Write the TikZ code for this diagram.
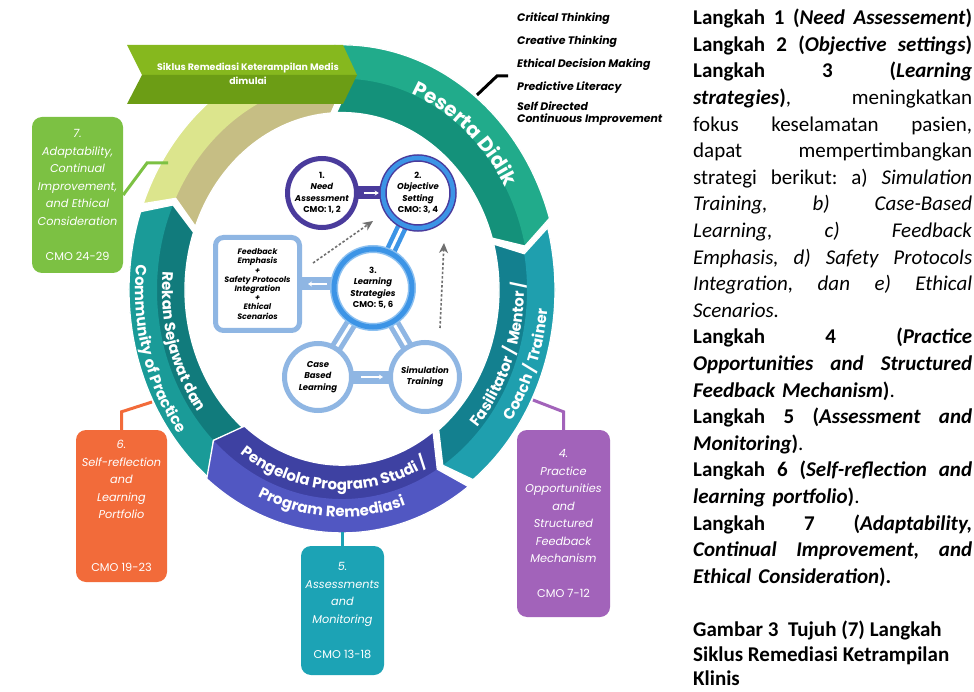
\documentclass[tikz,border=0pt]{standalone}
\usepackage{fontspec}
\setmainfont{Carlito}
\newfontfamily\popf{Poppins}
\usetikzlibrary{decorations.text,arrows.meta,calc}
\pgfdeclarelayer{back}
\pgfdeclarelayer{bg}
\pgfsetlayers{back,bg,main}
\definecolor{khL}{HTML}{DCE58D}\definecolor{khD}{HTML}{C6BE84}
\definecolor{peL}{HTML}{21AB8B}\definecolor{peD}{HTML}{14917A}
\definecolor{faL}{HTML}{1F9FAE}\definecolor{faD}{HTML}{13808F}
\definecolor{pgL}{HTML}{5157C2}\definecolor{pgD}{HTML}{3E41A2}
\definecolor{rkL}{HTML}{1A9B98}\definecolor{rkD}{HTML}{117B7C}
\definecolor{bnL}{HTML}{86B81E}\definecolor{bnD}{HTML}{6C9D15}
\definecolor{cSeven}{HTML}{7CC143}\definecolor{cSix}{HTML}{F26B3A}
\definecolor{cFive}{HTML}{1CA3B5}\definecolor{cFour}{HTML}{A263BA}
\definecolor{cPur}{HTML}{4A3B9C}\definecolor{cBlu}{HTML}{3C94E6}
\definecolor{cLig}{HTML}{8FB6E3}\definecolor{cPale}{HTML}{8CC0F0}
\definecolor{cGry}{HTML}{707070}
\newcommand\ringband[6]{%
 \begin{scope}
  \clip (#1:#4) arc[start angle=#1,end angle=#2,radius=#4] -- ({#2-5}:{(#3+#4)/2}) -- (#2:#3) arc[start angle=#2,end angle=#1,radius=#3] -- ({#1-5}:{(#3+#4)/2}) -- cycle;
  \fill[#5] (0,0) circle[radius=#4+20];
  \fill[#6,even odd rule] (0,0) circle[radius=#4+20] (0,0) circle[radius={(#3+#4)/2}];
 \end{scope}
 \draw[white,line width=1.3pt,line join=round] (#1:#4) arc[start angle=#1,end angle=#2,radius=#4] -- ({#2-5}:{(#3+#4)/2}) -- (#2:#3) arc[start angle=#2,end angle=#1,radius=#3] -- ({#1-5}:{(#3+#4)/2}) -- cycle;
}
\newcommand\jl[1]{\leavevmode\hbox to 279pt{\frenchspacing\spaceskip=0.226em plus 1fil\relax #1}}
\tikzset{
 callbox/.style={rounded corners=10pt,inner sep=0pt,align=center,text=white,font=\popf\itshape\fontsize{11.3}{17.5}\selectfont},
 calline/.style={line width=3pt},
 ctext/.style={font=\popf\bfseries\fontsize{8.5}{11.5}\selectfont,align=center,text=black},
 bigc/.style={circle,fill=white,inner sep=0pt},
 cbar/.style={line width=13pt},
 wtip/.style={white,line width=1.6pt,-{Stealth[length=4pt,width=5pt]}},
 dotarrow/.style={draw=cGry,line width=1.6pt,dash pattern=on 2.5pt off 2pt,-{Stealth[length=10pt,width=9pt,inset=3pt]}},
 listtext/.style={font=\popf\bfseries\itshape\fontsize{10.9}{12}\selectfont,inner sep=0pt,align=left},
}
\begin{document}
\begin{tikzpicture}[x=1pt,y=1pt]
\useasboundingbox (0,0) rectangle (974,-692);
\begin{pgfonlayer}{back}
\fill[white] (0,0) rectangle (974,-692);
\end{pgfonlayer}

% ---------- ring ----------
\begin{scope}[shift={(342,-290)}]
 \begin{scope}[yscale=1.13]
  \ringband{159}{94}{157}{213}{khD}{khL}
  \ringband{92}{17}{157}{217}{peD}{peL}
  \ringband{15}{-52}{157}{213}{faD}{faL}
  \ringband{231}{161}{157}{213}{rkD}{rkL}
  \ringband{-54}{-129}{155}{215}{pgD}{pgL}
 \end{scope}
 \path[decorate,decoration={text along path,text align=center,text color=white,
   text={|\popf\bfseries\fontsize{20}{20}\selectfont|Peserta Didik}}]
   (95:187 and 211.3) arc[start angle=95,end angle=5,x radius=187,y radius=211.3];
 \path[decorate,decoration={text along path,text align=center,text color=white,
   text={|\popf\bfseries\fontsize{15}{15}\selectfont|Fasilitator / Mentor /}}]
   (-50:182 and 205.7) arc[start angle=-50,end angle=10,x radius=182,y radius=205.7];
 \path[decorate,decoration={text along path,text align=center,text color=white,
   text={|\popf\bfseries\fontsize{15}{15}\selectfont|Coach / Trainer}}]
   (-50:206 and 232.8) arc[start angle=-50,end angle=10,x radius=206,y radius=232.8];
 \path[decorate,decoration={text along path,text align=center,text color=white,
   text={|\popf\bfseries\fontsize{15}{15}\selectfont|Pengelola Program Studi /}}]
   (-140:177 and 200) arc[start angle=-140,end angle=-46,x radius=177,y radius=200];
 \path[decorate,decoration={text along path,text align=center,text color=white,
   text={|\popf\bfseries\fontsize{15}{15}\selectfont|Program Remediasi}}]
   (-140:201 and 227) arc[start angle=-140,end angle=-46,x radius=201,y radius=227];
 \path[decorate,decoration={text along path,text align=center,text color=white,
   text={|\popf\bfseries\fontsize{15}{15}\selectfont|Rekan Sejawat dan}}]
   (171:180 and 203.4) arc[start angle=171,end angle=221,x radius=180,y radius=203.4];
 \path[decorate,decoration={text along path,text align=center,text color=white,
   text={|\popf\bfseries\fontsize{15}{15}\selectfont|Community of Practice}}]
   (171:207 and 233.9) arc[start angle=171,end angle=221,x radius=207,y radius=233.9];
\end{scope}

% ---------- banner ----------
\fill[bnL] (127,-45) -- (343,-45) -- (357,-75) -- (142,-75) -- cycle;
\fill[bnD] (142,-75) -- (357,-75) -- (343,-104) -- (127,-104) -- cycle;
\node[font=\popf\bfseries\fontsize{9.4}{14}\selectfont,text=white,align=center] (bnt) at (248,-74)
  {Siklus Remediasi Keterampilan Medis\\dimulai};

% ---------- callouts ----------
\node[callbox,fill=cSeven,minimum width=91pt,minimum height=156pt] (b7) at (77.5,-195)
 {7.\\Adaptability,\\Continual\\Improvement,\\and Ethical\\Consideration\\[17.5pt]\upshape CMO 24-29};
\node[callbox,fill=cSix,minimum width=91pt,minimum height=152pt] (b6) at (121.5,-506)
 {6.\\Self-reflection\\and\\Learning\\Portfolio\\[35pt]\upshape CMO 19-23};
\node[callbox,fill=cFive,minimum width=83pt,minimum height=129pt] (b5) at (342.5,-610.5)
 {5.\\Assessments\\and\\Monitoring\\[17.5pt]\upshape CMO 13-18};
\node[callbox,fill=cFour,minimum width=93pt,minimum height=187pt] (b4) at (563.5,-523.5)
 {4.\\Practice\\Opportunities\\and\\Structured\\Feedback\\Mechanism\\[17.5pt]\upshape CMO 7-12};
\coordinate (k7a) at (147,-163);\coordinate (k7b) at (168,-163);
\coordinate (k6) at (152,-402);
\coordinate (k4) at (533,-400);
\draw[calline,cSeven] (b7.east) -- (k7a) -- (k7b);
\draw[calline,cSix] (b6.north) -- ++(0,18) -- (k6);
\draw[calline,cFive] (b5.north) -- ++(0,14);
\draw[calline,cFour] (b4.north) -- ++(0,18) -- (k4);

% ---------- competence list ----------
\node[listtext,anchor=west] (l1) at (517,-19) {Critical Thinking};
\node[listtext,anchor=west] (l2) at (517,-42) {Creative Thinking};
\node[listtext,anchor=west] (l3) at (517,-65) {Ethical Decision Making};
\node[listtext,anchor=west] (l4) at (517,-88) {Predictive Literacy};
\node[listtext,anchor=north west,font=\popf\bfseries\itshape\fontsize{10.9}{11.5}\selectfont] (l5) at (517,-102) {Self Directed\\Continuous Improvement};
\coordinate (kp1) at (477,-95);\coordinate (kp2) at (497,-76);\coordinate (kp3) at (508,-76);
\draw[calline,black] (kp1) -- (kp2) -- (kp3);

% ---------- inner graph ----------
\node[bigc,ctext,draw=cPur,line width=5pt,minimum size=69pt] (n1) at (322,-193)
  {1.\\\textit{Need}\\\textit{Assessment}\\CMO: 1, 2};
\node[bigc,ctext,draw=cPur,line width=1.5pt,double=cBlu,double distance=4.5pt,minimum size=70pt] (n2) at (418,-193)
  {2.\\\textit{Objective}\\\textit{Setting}\\CMO: 3, 4};
\node[bigc,ctext,draw=cPale,line width=1.5pt,double=cBlu,double distance=5pt,minimum size=78pt] (n3) at (373,-288)
  {3.\\\textit{Learning}\\\textit{Strategies}\\CMO: 5, 6};
\node[bigc,ctext,draw=cLig,line width=5pt,minimum size=67pt] (n4) at (318,-377)
  {\textit{Case}\\\textit{Based}\\\textit{Learning}};
\node[bigc,ctext,draw=cLig,line width=5pt,minimum size=69pt] (n5) at (425,-377)
  {\textit{Simulation}\\\textit{Training}};
\node[draw=cLig,line width=5pt,fill=white,rounded corners=8pt,minimum width=84pt,minimum height=93pt,inner sep=0pt,
  align=center,font=\popf\bfseries\itshape\fontsize{7.9}{9.2}\selectfont] (fb) at (257.5,-284)
  {Feedback\\Emphasis\\+\\Safety Protocols\\Integration\\+\\Ethical\\Scenarios};

\begin{pgfonlayer}{bg}
 \draw[cbar,cPur] (n1.center) -- (n2.center);
 \draw[line width=12pt,cBlu] (n2.center) -- (n3.center);
 \draw[line width=3pt,white] (n2.center) -- (n3.center);
 \draw[line width=13pt,cLig] (n3.center) -- (n4.center);
 \draw[line width=3pt,white] (n3.center) -- (n4.center);
 \draw[line width=13pt,cLig] (n3.center) -- (n5.center);
 \draw[line width=3pt,white] (n3.center) -- (n5.center);
 \draw[cbar,cLig] (n4.center) -- (n5.center);
 \draw[cbar,cLig] (fb.center) -- (fb.center -| n3.center);
\end{pgfonlayer}
\draw[wtip] ($(n1.east)!.2!(n2.west)$) -- ($(n1.east)!.85!(n2.west)$);
\draw[wtip] ($(n4.east)!.2!(n5.west)$) -- ($(n4.east)!.85!(n5.west)$);
\draw[wtip] ($(fb.east -| n3.west)+(-6,0)$) -- ($(fb.east)+(6,0)$);

\coordinate (d1s) at (313,-263);\coordinate (d1e) at (373,-221);
\coordinate (d2s) at (440,-328);\coordinate (d2e) at (444,-243);
\draw[dotarrow] (d1s) -- (d1e);
\draw[dotarrow] (d2s) -- (d2e);

% ---------- right text ----------
\node[anchor=north west,inner sep=0pt,text width=279pt,align=left,font=\fontsize{21}{26.6}\selectfont] (txt) at (693,-9)
{\jl{\textbf{Langkah 1 (\textit{Need Assessement})}}\\
\jl{\textbf{Langkah 2 (\textit{Objective settings})}}\\
\jl{\textbf{Langkah 3 (\textit{Learning}}}\\
\jl{\textbf{\textit{strategies})}, meningkatkan}\\
\jl{fokus keselamatan pasien,}\\
\jl{dapat mempertimbangkan}\\
\jl{strategi berikut: a) \textit{Simulation}}\\
\jl{\textit{Training, b) Case-Based}}\\
\jl{\textit{Learning, c) Feedback}}\\
\jl{\textit{Emphasis, d) Safety Protocols}}\\
\jl{\textit{Integration, dan e) Ethical}}\\
\textit{Scenarios.}\\
\jl{\textbf{Langkah 4 (\textit{Practice}}}\\
\jl{\textbf{\textit{Opportunities and Structured}}}\\
\textbf{\textit{Feedback Mechanism})}.\\
\jl{\textbf{Langkah 5 (\textit{Assessment and}}}\\
\textbf{\textit{Monitoring})}.\\
\jl{\textbf{Langkah 6 (\textit{Self-reflection and}}}\\
\textbf{\textit{learning portfolio})}.\\
\jl{\textbf{Langkah 7 (\textit{Adaptability,}}}\\
\jl{\textbf{\textit{Continual Improvement, and}}}\\
\textbf{\textit{Ethical Consideration}).}};
\node[anchor=north west,inner sep=0pt,align=left,font=\bfseries\fontsize{21}{24.5}\selectfont] (cap) at (693,-621)
{Gambar 3\ \ Tujuh (7) Langkah\\Siklus Remediasi Ketrampilan\\Klinis};
\end{tikzpicture}
\end{document}
